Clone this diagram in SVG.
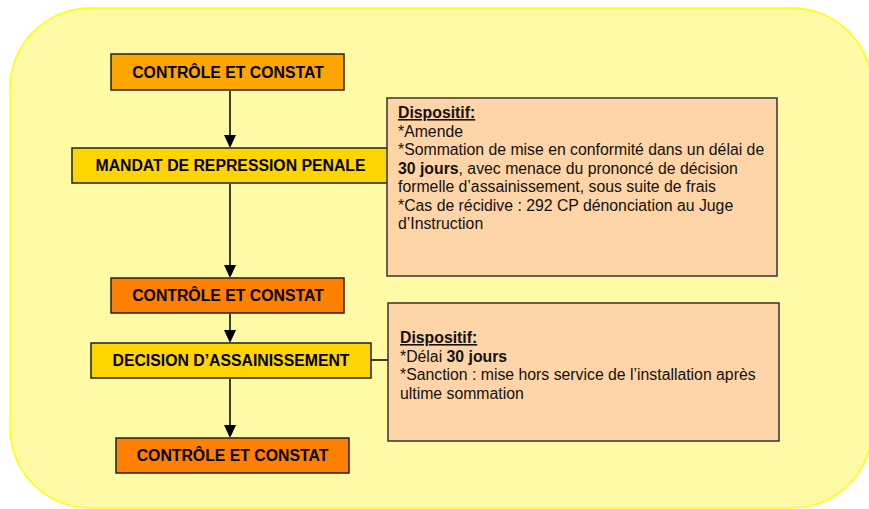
<svg xmlns="http://www.w3.org/2000/svg" width="869" height="509" viewBox="0 0 869 509">
<style>
.node{stroke:#222;stroke-width:1.5}
.nt{font-family:"Liberation Sans",Arial,sans-serif;font-size:15.8px;font-weight:bold;fill:#000;text-anchor:middle}
.bt{font-family:"Liberation Sans",Arial,sans-serif;font-size:15.8px;fill:#111}
.info{fill:#FFD4A6;stroke:#333;stroke-width:1.5}
.conn{stroke:#000;stroke-width:1.5;fill:none}
</style>
<rect x="10" y="8" width="862" height="500" rx="80" ry="80" fill="#FFFAA5" stroke="#FFFF00" stroke-width="1.5"/>
<g id="connectors">
<line class="conn" x1="230" y1="91" x2="230" y2="136"/>
<path d="M224,135 L236,135 L230,148 Z" fill="#000"/>
<line class="conn" x1="230" y1="184" x2="230" y2="266"/>
<path d="M224,265 L236,265 L230,278 Z" fill="#000"/>
<line class="conn" x1="230" y1="314" x2="230" y2="331"/>
<path d="M224,330 L236,330 L230,343 Z" fill="#000"/>
<line class="conn" x1="230" y1="379" x2="230" y2="426"/>
<path d="M224,425 L236,425 L230,438 Z" fill="#000"/>
<line class="conn" x1="371" y1="360" x2="388" y2="360"/>
</g>
<g id="n1"><rect class="node" x="111" y="54" width="233" height="36" fill="#FFA500"/><text class="nt" x="228" y="77.5">CONTRÔLE ET CONSTAT</text></g>
<g id="n2"><rect class="node" x="72" y="148" width="316" height="35" fill="#FFD500"/><text class="nt" x="230.5" y="171">MANDAT DE REPRESSION PENALE</text></g>
<g id="n3"><rect class="node" x="111" y="278" width="233" height="35" fill="#FF8000"/><text class="nt" x="228" y="301">CONTRÔLE ET CONSTAT</text></g>
<g id="n4"><rect class="node" x="91" y="343" width="280" height="35" fill="#FFD500"/><text class="nt" x="231" y="366">DECISION D’ASSAINISSEMENT</text></g>
<g id="n5"><rect class="node" x="116" y="438" width="233" height="35" fill="#FF8000"/><text class="nt" x="232.5" y="461">CONTRÔLE ET CONSTAT</text></g>
<g id="info1">
<rect class="info" x="387" y="98" width="390" height="178"/>
<text class="bt" x="398" y="118" font-weight="bold" text-decoration="underline">Dispositif:</text>
<text class="bt" x="398" y="136.5">*Amende</text>
<text class="bt" x="398" y="155">*Sommation de mise en conformité dans un délai de</text>
<text class="bt" x="398" y="173.5"><tspan font-weight="bold">30 jours</tspan>, avec menace du prononcé de décision</text>
<text class="bt" x="398" y="192">formelle d’assainissement, sous suite de frais</text>
<text class="bt" x="398" y="210.5">*Cas de récidive : 292 CP dénonciation au Juge</text>
<text class="bt" x="398" y="229">d’Instruction</text>
</g>
<g id="info2">
<rect class="info" x="388" y="303" width="391" height="138"/>
<text class="bt" x="400" y="343" font-weight="bold" text-decoration="underline">Dispositif:</text>
<text class="bt" x="400" y="361.5">*Délai <tspan font-weight="bold">30 jours</tspan></text>
<text class="bt" x="400" y="380">*Sanction : mise hors service de l’installation après</text>
<text class="bt" x="400" y="398.5">ultime sommation</text>
</g>
</svg>
